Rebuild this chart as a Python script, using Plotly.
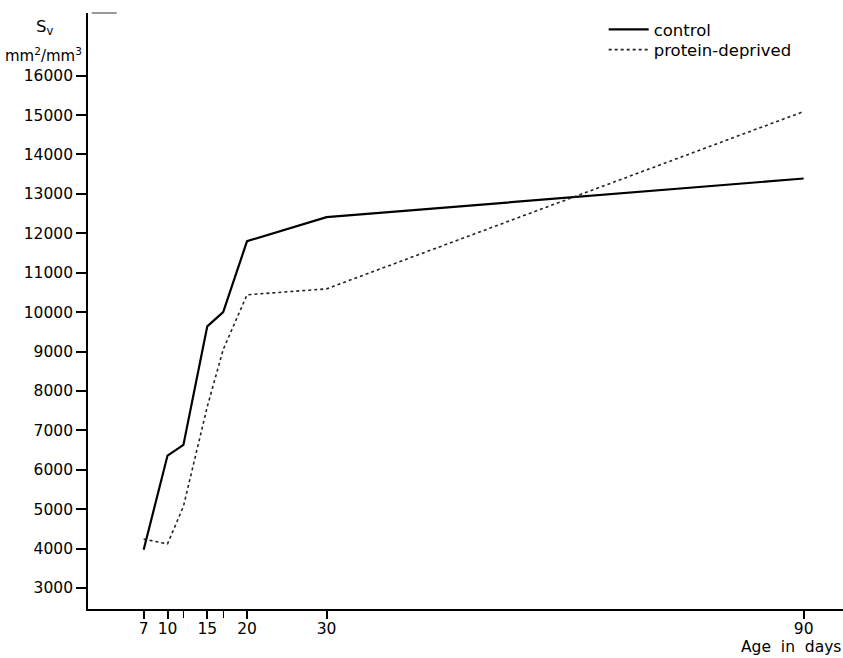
import plotly.graph_objects as go

# Data
age_days = [7, 10, 12, 15, 17, 20, 30, 90]
control = [3970, 6360, 6630, 9640, 10000, 11800, 12410, 13390]
protein_deprived = [4240, 4120, 5070, 7600, 9050, 10440, 10590, 15090]

x_tickvals = [7, 10, 15, 20, 30, 90]
x_ticktext = ["7", "10", "15", "20", "30", "90"]
x_minor_tickvals = [12, 17]
y_tickvals = list(range(3000, 16001, 1000))
y_ticktext = [str(v) for v in y_tickvals]

FONT = "DejaVu Sans"

fig = go.Figure()
fig.add_trace(go.Scatter(
    x=age_days, y=control, mode="lines", name="control",
    line=dict(color="black", width=2.2), legend="legend",
))
fig.add_trace(go.Scatter(
    x=age_days, y=protein_deprived, mode="lines", name="protein-deprived",
    line=dict(color="#222222", width=1.6, dash="dot"), legend="legend2",
))

leg_common = dict(
    xanchor="left", yanchor="top",
    bgcolor="rgba(0,0,0,0)", borderwidth=0,
    font=dict(family=FONT, size=16.5, color="black"),
    itemwidth=40,
)

fig.update_layout(
    width=843, height=658,
    margin=dict(l=88, r=0, t=13, b=49),
    paper_bgcolor="white", plot_bgcolor="white",
    font=dict(family=FONT, size=15.5, color="black"),
    showlegend=True,
    legend=dict(x=0.683, y=1.0015, **leg_common),
    legend2=dict(x=0.683, y=0.9675, **leg_common),
    xaxis=dict(
        range=[0, 94.95], showgrid=False, zeroline=False,
        showline=True, linecolor="black", linewidth=1.8,
        ticks="outside", ticklen=8, tickwidth=1.5, tickcolor="black",
        tickvals=x_tickvals, ticktext=x_ticktext,
        tickfont=dict(family=FONT, size=15.5, color="black"),
        ticklabelstandoff=-4,
        minor=dict(tickvals=x_minor_tickvals, ticks="outside", ticklen=7,
                   tickwidth=1.3, tickcolor="black", showgrid=False),
    ),
    yaxis=dict(
        range=[2467, 17590], showgrid=False, zeroline=False,
        showline=True, linecolor="black", linewidth=1.8,
        ticks="outside", ticklen=10, tickwidth=1.5, tickcolor="black",
        tickvals=y_tickvals, ticktext=y_ticktext,
        tickfont=dict(family=FONT, size=15.5, color="black"),
    ),
    annotations=[
        dict(text="S<sub>v</sub>", xref="paper", yref="paper",
             x=-0.058, y=0.976, xanchor="center", yanchor="middle",
             showarrow=False, font=dict(family=FONT, size=16.5, color="black")),
        dict(text="mm<sup>2</sup>/mm<sup>3</sup>", xref="paper", yref="paper",
             x=-0.059, y=0.93, xanchor="center", yanchor="middle",
             showarrow=False, font=dict(family=FONT, size=15, color="black")),
        dict(text="Age&nbsp; in&nbsp; days", xref="paper", yref="paper",
             x=1.0, y=-0.063, xanchor="right", yanchor="middle",
             showarrow=False, font=dict(family=FONT, size=15.5, color="black")),
    ],
    shapes=[
        dict(type="line", xref="paper", yref="paper",
             x0=0.005, x1=0.038, y0=1.0, y1=1.0,
             line=dict(color="#555555", width=1.2)),
    ],
)

fig.write_html("out.html", config={"displayModeBar": False},
               post_script="document.body.style.margin='0';")
